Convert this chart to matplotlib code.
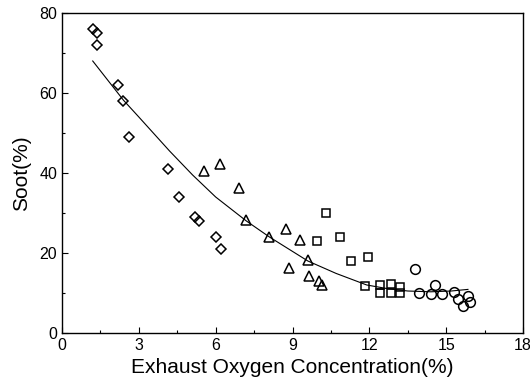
import matplotlib
matplotlib.use("Agg")
import matplotlib.pyplot as plt
from matplotlib.ticker import MultipleLocator

plt.rcParams['font.family'] = ['Liberation Sans', 'DejaVu Sans']

diamond_x = [1.2, 1.35, 1.38, 2.2, 2.4, 2.6, 4.15, 4.55, 5.2, 5.35, 6.0, 6.2]
diamond_y = [76, 75, 72, 62, 58, 49, 41, 34, 29, 28, 24, 21]

triangle_x = [5.55, 6.17, 6.9, 7.2, 8.1, 8.75, 8.85, 9.3, 9.6, 9.65, 10.05, 10.15]
triangle_y = [40.5, 42.3, 36.3, 28.3, 24, 26, 16.3, 23.3, 18.3, 14.2, 13, 12]

square_x = [10.3, 9.95, 10.85, 11.3, 11.95, 11.85, 12.4, 12.4, 12.85, 12.85, 13.2, 13.2]
square_y = [30, 23, 24, 18, 19, 11.8, 12, 10, 12.2, 10, 11.5, 10]

circle_x = [13.8, 13.95, 14.4, 14.55, 14.85, 15.3, 15.45, 15.65, 15.95, 15.85]
circle_y = [16, 10, 9.8, 12, 9.8, 10.2, 8.5, 6.8, 7.8, 9.2]

curve_x = [1.2, 2.4, 3.0, 4.2, 5.1, 6.0, 7.2, 8.1, 9.6, 10.7, 11.9, 12.7, 13.5, 14.4, 15.2, 15.85]
curve_y = [68, 58.2, 54, 45.5, 39.5, 34, 28, 24, 18, 14.9, 12, 11.1, 10.5, 10.3, 10.5, 10.9]

fig = plt.figure(figsize=(5.3, 3.88), dpi=100)
ax = fig.add_axes([62/530, 1-333/388, (523-62)/530, (333-13)/388])

ax.plot(curve_x, curve_y, color='black', lw=0.8, zorder=2)
mk = dict(linestyle='none', markerfacecolor='none', markeredgecolor='black', markeredgewidth=1.1, zorder=3)
ax.plot(diamond_x, diamond_y, marker='D', markersize=5.2, **mk)
ax.plot(triangle_x, triangle_y, marker='^', markersize=6.5, **mk)
ax.plot(square_x, square_y, marker='s', markersize=6.3, **mk)
ax.plot(circle_x, circle_y, marker='o', markersize=7, **mk)

ax.set_xlim(0, 18)
ax.set_ylim(0, 80)
ax.xaxis.set_major_locator(MultipleLocator(3))
ax.xaxis.set_minor_locator(MultipleLocator(1.5))
ax.yaxis.set_major_locator(MultipleLocator(20))
ax.yaxis.set_minor_locator(MultipleLocator(10))
ax.tick_params(which='both', direction='in', labelsize=11.5, width=0.8)
ax.tick_params(which='major', length=4)
ax.tick_params(which='minor', length=2.5)
for s in ax.spines.values():
    s.set_linewidth(1.0)

ax.set_xlabel('Exhaust Oxygen Concentration(%)', fontsize=15, labelpad=4)
ax.set_ylabel('Soot(%)', fontsize=15, labelpad=6)

fig.savefig('out.png', dpi=100)
